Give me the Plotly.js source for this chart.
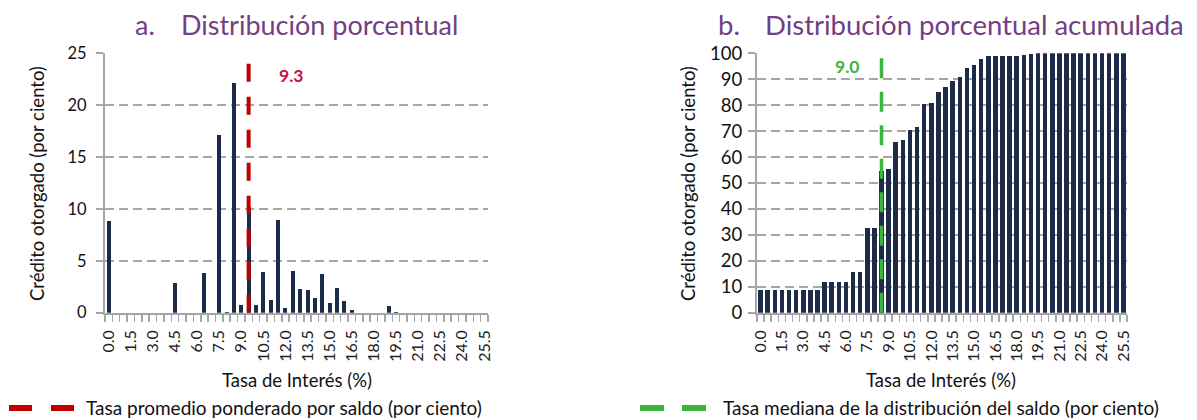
<!DOCTYPE html>
<html>
<head>
<meta charset="utf-8">
<script src="https://cdn.plot.ly/plotly-3.0.1.min.js"></script>
<style>
  html, body { margin: 0; padding: 0; background: #ffffff; }
  #chart { width: 1197px; height: 420px; }
</style>
</head>
<body>
<div id="chart"></div>
<script>
// ---- Data ----
const tasas = [0.0, 0.5, 1.0, 1.5, 2.0, 2.5, 3.0, 3.5, 4.0, 4.5, 5.0, 5.5, 6.0, 6.5, 7.0, 7.5, 8.0, 8.5, 9.0, 9.5,
  10.0, 10.5, 11.0, 11.5, 12.0, 12.5, 13.0, 13.5, 14.0, 14.5, 15.0, 15.5, 16.0, 16.5, 17.0, 17.5, 18.0, 18.5, 19.0, 19.5,
  20.0, 20.5, 21.0, 21.5, 22.0, 22.5, 23.0, 23.5, 24.0, 24.5, 25.0, 25.5];

const distribucion = [8.8, 0, 0, 0, 0, 0, 0, 0, 0, 2.9, 0, 0, 0, 3.8, 0, 17.1, 0.1, 22.1, 0.7, 10.2,
  0.7, 3.9, 1.2, 8.9, 0.45, 4.0, 2.3, 2.2, 1.4, 3.7, 0.9, 2.4, 1.15, 0.25, 0, 0, 0, 0, 0.6, 0.05,
  0, 0, 0, 0, 0, 0, 0, 0, 0, 0, 0, 0];

const acumulada = [8.8, 8.8, 8.8, 8.8, 8.8, 8.8, 8.8, 8.8, 8.8, 11.7, 11.7, 11.7, 11.7, 15.5, 15.5, 32.6, 32.6, 54.7, 55.5, 65.7,
  66.4, 70.3, 71.5, 80.4, 80.9, 84.9, 87.2, 89.4, 90.8, 94.5, 95.4, 97.7, 98.8, 99.1, 99.1, 99.1, 99.1, 99.5, 99.9, 100,
  100, 100, 100, 100, 100, 100, 100, 100, 100, 100, 100, 100];

const etiquetasX = ['0.0', '1.5', '3.0', '4.5', '6.0', '7.5', '9.0', '10.5', '12.0', '13.5', '15.0', '16.5', '18.0', '19.5', '21.0', '22.5', '24.0', '25.5'];
const valoresEtiquetasX = [0, 1.5, 3, 4.5, 6, 7.5, 9, 10.5, 12, 13.5, 15, 16.5, 18, 19.5, 21, 22.5, 24, 25.5];

const tasaPromedio = '9.3';      // label shown
const binPromedio = [9.5, 9.5];  // bin where the line is drawn
const tasaMediana = '9.0';
const binMediana = [8.5, 8.5];

const rangoPromedio = [0, 25];
const rangoMediana = [0, 100];

const textoLeyendaPromedio = 'Tasa promedio ponderado por saldo (por ciento)';
const textoLeyendaMediana = 'Tasa mediana de la distribución del saldo (por ciento)';

// ---- Styles ----
const W = 1197, H = 420;
const px = x => x / W;
const py = y => 1 - y / H;
const FONT = 'Lato, "Open Sans", sans-serif';
const BAR = '#1c2b4a';
const GRIS = '#a6a6a6';
const ROJO = '#c00000';
const VERDE = '#3db43d';
const MORADO = '#723f83';

const traces = [
  { type: 'bar', x: tasas, y: distribucion, xaxis: 'x', yaxis: 'y', width: 0.27,
    marker: { color: BAR }, showlegend: false, hoverinfo: 'x+y' },
  { type: 'scatter', mode: 'lines', x: binPromedio, y: rangoPromedio, xaxis: 'x', yaxis: 'y',
    line: { color: ROJO, width: 4, dash: '18px,15px' }, showlegend: false },
  { type: 'bar', x: tasas, y: acumulada, xaxis: 'x2', yaxis: 'y2', width: 0.32,
    marker: { color: BAR }, showlegend: false, hoverinfo: 'x+y' },
  { type: 'scatter', mode: 'lines', x: binMediana, y: rangoMediana, xaxis: 'x2', yaxis: 'y2',
    line: { color: VERDE, width: 3.5, dash: '20px,13.5px' }, showlegend: false }
];

function xAxis(domain, anchor) {
  return {
    domain: domain, anchor: anchor, range: [-0.25, 25.75],
    tickmode: 'array', tickvals: valoresEtiquetasX, ticktext: etiquetasX,
    tickangle: -90, ticks: 'outside', ticklen: 9, tickcolor: 'rgba(0,0,0,0)',
    tickfont: { family: FONT, size: 16, color: '#222' },
    minor: { tickmode: 'linear', tick0: -0.25, dtick: 0.5, ticks: 'outside', ticklen: 7,
             tickcolor: GRIS, tickwidth: 1.5, showgrid: false },
    showline: true, linecolor: GRIS, linewidth: 2, showgrid: false, zeroline: false, fixedrange: true
  };
}
function yAxis(domain, anchor, range, dtick, fsize, standoff) {
  return {
    domain: domain, anchor: anchor, range: range, dtick: dtick,
    ticks: 'outside', ticklen: 7, tickcolor: GRIS, tickwidth: 2, ticklabelstandoff: standoff,
    tickfont: { family: FONT, size: fsize, color: '#111' },
    showline: true, linecolor: GRIS, linewidth: 2,
    showgrid: true, gridcolor: GRIS, gridwidth: 2, griddash: '9px,5px',
    zeroline: false, fixedrange: true
  };
}

const yDom = [py(312.7), py(53.3)];

const annotations = [
  { text: 'a.', x: px(133), y: py(24), xanchor: 'left', yanchor: 'middle', font: { family: FONT, size: 27, color: MORADO } },
  { text: 'Distribución porcentual', x: px(179), y: py(24), xanchor: 'left', yanchor: 'middle', font: { family: FONT, size: 27, color: MORADO } },
  { text: 'b.', x: px(716), y: py(24), xanchor: 'left', yanchor: 'middle', font: { family: FONT, size: 27.5, color: MORADO } },
  { text: 'Distribución porcentual acumulada', x: px(763), y: py(24), xanchor: 'left', yanchor: 'middle', font: { family: FONT, size: 27.5, color: MORADO } },
  { text: 'Crédito otorgado (por ciento)', x: px(37), y: py(184), textangle: -90, xanchor: 'center', yanchor: 'middle', font: { family: FONT, size: 18.5, color: '#111' } },
  { text: 'Crédito otorgado (por ciento)', x: px(688), y: py(184), textangle: -90, xanchor: 'center', yanchor: 'middle', font: { family: FONT, size: 18.5, color: '#111' } },
  { text: 'Tasa de Interés (%)', x: px(296.5), y: py(380), xanchor: 'center', yanchor: 'middle', font: { family: FONT, size: 18.5, color: '#111' } },
  { text: 'Tasa de Interés (%)', x: px(941), y: py(380), xanchor: 'center', yanchor: 'middle', font: { family: FONT, size: 18.5, color: '#111' } },
  { text: '<b>' + tasaPromedio + '</b>', x: px(291), y: py(75), xanchor: 'center', yanchor: 'middle', font: { family: FONT, size: 17.5, color: '#c8143c' } },
  { text: '<b>' + tasaMediana + '</b>', x: px(847), y: py(66), xanchor: 'center', yanchor: 'middle', font: { family: FONT, size: 17.5, color: VERDE } },
  { text: textoLeyendaPromedio, x: px(84), y: py(407), xanchor: 'left', yanchor: 'middle', font: { family: FONT, size: 19, color: '#111' } },
  { text: textoLeyendaMediana, x: px(721), y: py(407), xanchor: 'left', yanchor: 'middle', font: { family: FONT, size: 19, color: '#111' } }
].map(a => Object.assign({ xref: 'paper', yref: 'paper', showarrow: false }, a));

const legendLine = (x0, x1, color) => ({ type: 'line', xref: 'paper', yref: 'paper',
  x0: px(x0), x1: px(x1), y0: py(408), y1: py(408), line: { color: color, width: 6 } });

const shapes = [
  legendLine(9, 32, ROJO), legendLine(51, 74, ROJO),
  legendLine(640, 664, VERDE), legendLine(682, 706, VERDE)
];

const layout = {
  width: W, height: H,
  margin: { l: 0, r: 0, t: 0, b: 0 },
  paper_bgcolor: '#ffffff', plot_bgcolor: '#ffffff',
  showlegend: false, bargap: 0,
  xaxis: xAxis([px(105), px(488)], 'y'),
  yaxis: yAxis(yDom, 'x', [0, 25], 5, 16.5, 6),
  xaxis2: xAxis([px(757), px(1127)], 'y2'),
  yaxis2: yAxis(yDom, 'x2', [0, 100], 10, 18.5, 2),
  annotations: annotations,
  shapes: shapes
};

Plotly.newPlot('chart', traces, layout, { displayModeBar: false, staticPlot: true });
</script>
</body>
</html>
